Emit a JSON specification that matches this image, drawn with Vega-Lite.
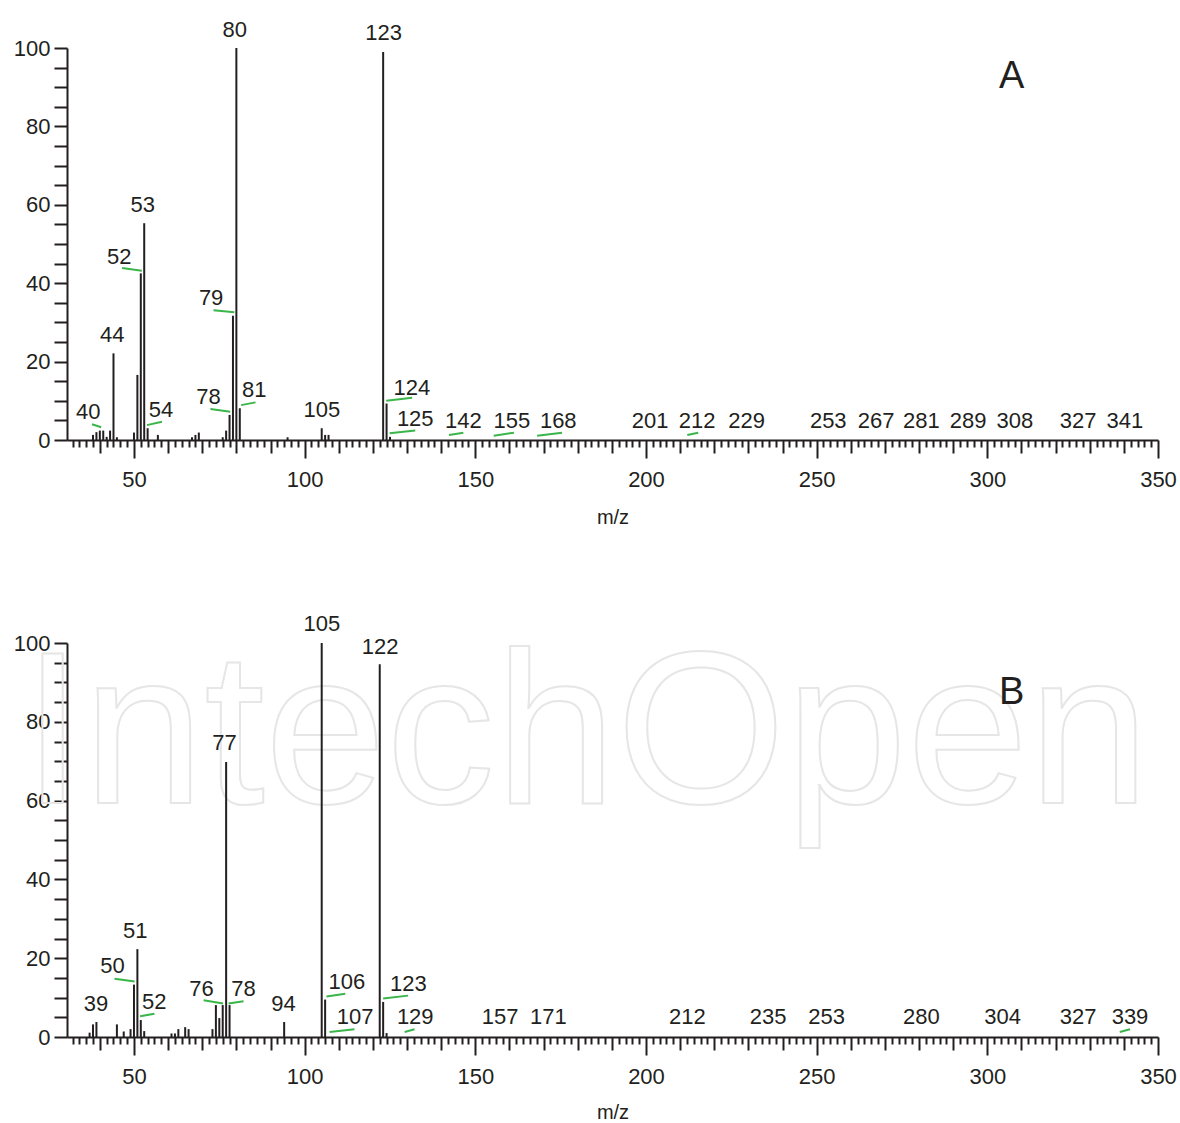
{
  "$schema": "https://vega.github.io/schema/vega-lite/v6.json",
  "padding": {"left": 13, "top": 18, "right": 4, "bottom": 4},
  "bounds": "flush",
  "spacing": 203,
  "config": {
    "font": "Liberation Sans",
    "view": {"stroke": null},
    "axis": {
      "grid": false,
      "domainColor": "#231f20",
      "domainWidth": 2,
      "tickColor": "#231f20",
      "tickWidth": 2,
      "labelColor": "#231f20",
      "labelFont": "Liberation Sans",
      "labelFontSize": 22,
      "titleFont": "Liberation Sans",
      "titleFontSize": 20,
      "titleFontWeight": "normal",
      "titleColor": "#231f20"
    }
  },
  "datasets": {
    "peaks": [
      {"panel": "A", "mz": 38, "intensity": 1.3}, {"panel": "A", "mz": 39, "intensity": 2.0}, {"panel": "A", "mz": 40, "intensity": 2.4},
      {"panel": "A", "mz": 41, "intensity": 2.4}, {"panel": "A", "mz": 42, "intensity": 0.8}, {"panel": "A", "mz": 43, "intensity": 2.4},
      {"panel": "A", "mz": 44, "intensity": 22.1}, {"panel": "A", "mz": 45, "intensity": 0.7}, {"panel": "A", "mz": 50, "intensity": 1.9},
      {"panel": "A", "mz": 51, "intensity": 16.6}, {"panel": "A", "mz": 52, "intensity": 42.5}, {"panel": "A", "mz": 53, "intensity": 55.3},
      {"panel": "A", "mz": 54, "intensity": 3.0}, {"panel": "A", "mz": 57, "intensity": 1.3}, {"panel": "A", "mz": 67, "intensity": 0.7},
      {"panel": "A", "mz": 68, "intensity": 1.3}, {"panel": "A", "mz": 69, "intensity": 1.9}, {"panel": "A", "mz": 76, "intensity": 0.7},
      {"panel": "A", "mz": 77, "intensity": 2.4}, {"panel": "A", "mz": 78, "intensity": 6.4}, {"panel": "A", "mz": 79, "intensity": 31.7},
      {"panel": "A", "mz": 80, "intensity": 100}, {"panel": "A", "mz": 81, "intensity": 8.1}, {"panel": "A", "mz": 95, "intensity": 0.7},
      {"panel": "A", "mz": 105, "intensity": 3.0}, {"panel": "A", "mz": 106, "intensity": 1.3}, {"panel": "A", "mz": 107, "intensity": 1.3},
      {"panel": "A", "mz": 123, "intensity": 99.0}, {"panel": "A", "mz": 124, "intensity": 9.3}, {"panel": "A", "mz": 125, "intensity": 0.8},
      {"panel": "B", "mz": 37, "intensity": 1.1}, {"panel": "B", "mz": 38, "intensity": 3.2}, {"panel": "B", "mz": 39, "intensity": 3.8},
      {"panel": "B", "mz": 45, "intensity": 3.2}, {"panel": "B", "mz": 47, "intensity": 1.4}, {"panel": "B", "mz": 49, "intensity": 2.0},
      {"panel": "B", "mz": 50, "intensity": 13.3}, {"panel": "B", "mz": 51, "intensity": 22.3}, {"panel": "B", "mz": 52, "intensity": 4.3},
      {"panel": "B", "mz": 53, "intensity": 1.5}, {"panel": "B", "mz": 61, "intensity": 0.9}, {"panel": "B", "mz": 62, "intensity": 0.9},
      {"panel": "B", "mz": 63, "intensity": 2.0}, {"panel": "B", "mz": 65, "intensity": 2.5}, {"panel": "B", "mz": 66, "intensity": 2.0},
      {"panel": "B", "mz": 73, "intensity": 2.0}, {"panel": "B", "mz": 74, "intensity": 8.1}, {"panel": "B", "mz": 75, "intensity": 4.8},
      {"panel": "B", "mz": 76, "intensity": 8.1}, {"panel": "B", "mz": 77, "intensity": 69.8}, {"panel": "B", "mz": 78, "intensity": 8.1},
      {"panel": "B", "mz": 94, "intensity": 3.8}, {"panel": "B", "mz": 105, "intensity": 100}, {"panel": "B", "mz": 106, "intensity": 9.5},
      {"panel": "B", "mz": 122, "intensity": 94.6}, {"panel": "B", "mz": 123, "intensity": 8.9}, {"panel": "B", "mz": 124, "intensity": 1.0}
    ],
    "labels": [
      {"panel": "A", "label": "40", "lx": 36.6, "ly": 7.1}, {"panel": "A", "label": "44", "lx": 43.6, "ly": 26.8},
      {"panel": "A", "label": "52", "lx": 45.7, "ly": 46.7}, {"panel": "A", "label": "53", "lx": 52.6, "ly": 59.9},
      {"panel": "A", "label": "54", "lx": 57.9, "ly": 7.6}, {"panel": "A", "label": "78", "lx": 71.8, "ly": 11.0},
      {"panel": "A", "label": "79", "lx": 72.6, "ly": 36.3}, {"panel": "A", "label": "80", "lx": 79.5, "ly": 104.7},
      {"panel": "A", "label": "81", "lx": 85.2, "ly": 12.7}, {"panel": "A", "label": "105", "lx": 105.05, "ly": 7.6},
      {"panel": "A", "label": "123", "lx": 123.15, "ly": 103.7}, {"panel": "A", "label": "124", "lx": 131.4, "ly": 13.2},
      {"panel": "A", "label": "125", "lx": 132.4, "ly": 5.3}, {"panel": "A", "label": "142", "lx": 146.5, "ly": 4.8},
      {"panel": "A", "label": "155", "lx": 160.7, "ly": 4.8}, {"panel": "A", "label": "168", "lx": 174.3, "ly": 4.8},
      {"panel": "A", "label": "201", "lx": 201.2, "ly": 4.8}, {"panel": "A", "label": "212", "lx": 215.0, "ly": 4.8},
      {"panel": "A", "label": "229", "lx": 229.5, "ly": 4.8}, {"panel": "A", "label": "253", "lx": 253.4, "ly": 4.8},
      {"panel": "A", "label": "267", "lx": 267.4, "ly": 4.8}, {"panel": "A", "label": "281", "lx": 280.7, "ly": 4.8},
      {"panel": "A", "label": "289", "lx": 294.4, "ly": 4.8}, {"panel": "A", "label": "308", "lx": 308.1, "ly": 4.8},
      {"panel": "A", "label": "327", "lx": 326.6, "ly": 4.8}, {"panel": "A", "label": "341", "lx": 340.3, "ly": 4.8},
      {"panel": "B", "label": "39", "lx": 38.9, "ly": 8.3}, {"panel": "B", "label": "50", "lx": 43.7, "ly": 17.9},
      {"panel": "B", "label": "51", "lx": 50.4, "ly": 26.8}, {"panel": "B", "label": "52", "lx": 55.95, "ly": 8.9},
      {"panel": "B", "label": "76", "lx": 69.8, "ly": 12.3}, {"panel": "B", "label": "77", "lx": 76.5, "ly": 74.6},
      {"panel": "B", "label": "78", "lx": 82.1, "ly": 12.3}, {"panel": "B", "label": "94", "lx": 93.8, "ly": 8.3},
      {"panel": "B", "label": "105", "lx": 105.05, "ly": 104.7}, {"panel": "B", "label": "106", "lx": 112.4, "ly": 14.0},
      {"panel": "B", "label": "107", "lx": 114.8, "ly": 5.1}, {"panel": "B", "label": "122", "lx": 122.1, "ly": 99.0},
      {"panel": "B", "label": "123", "lx": 130.4, "ly": 13.4}, {"panel": "B", "label": "129", "lx": 132.4, "ly": 5.1},
      {"panel": "B", "label": "157", "lx": 157.3, "ly": 5.1}, {"panel": "B", "label": "171", "lx": 171.4, "ly": 5.1},
      {"panel": "B", "label": "212", "lx": 212.1, "ly": 5.1}, {"panel": "B", "label": "235", "lx": 235.8, "ly": 5.1},
      {"panel": "B", "label": "253", "lx": 252.9, "ly": 5.1}, {"panel": "B", "label": "280", "lx": 280.7, "ly": 5.1},
      {"panel": "B", "label": "304", "lx": 304.5, "ly": 5.1}, {"panel": "B", "label": "327", "lx": 326.6, "ly": 5.1},
      {"panel": "B", "label": "339", "lx": 341.8, "ly": 5.1}
    ],
    "leaders": [
      {"panel": "A", "x1": 37.7, "y1": 4.0, "x2": 40.4, "y2": 3.25}, {"panel": "A", "x1": 46.5, "y1": 43.9, "x2": 52.3, "y2": 43.2},
      {"panel": "A", "x1": 53.8, "y1": 3.8, "x2": 58.2, "y2": 4.66}, {"panel": "A", "x1": 72.4, "y1": 7.9, "x2": 78.2, "y2": 7.2},
      {"panel": "A", "x1": 73.3, "y1": 33.1, "x2": 79.4, "y2": 32.6}, {"panel": "A", "x1": 81.4, "y1": 8.9, "x2": 85.6, "y2": 9.6},
      {"panel": "A", "x1": 123.9, "y1": 10.0, "x2": 131.5, "y2": 10.8}, {"panel": "A", "x1": 124.9, "y1": 1.7, "x2": 132.4, "y2": 2.4},
      {"panel": "A", "x1": 142.3, "y1": 1.27, "x2": 146.5, "y2": 1.86}, {"panel": "A", "x1": 155.4, "y1": 1.1, "x2": 161.3, "y2": 1.86},
      {"panel": "A", "x1": 168.1, "y1": 1.1, "x2": 175.4, "y2": 1.86}, {"panel": "A", "x1": 212.1, "y1": 1.27, "x2": 215.3, "y2": 1.86},
      {"panel": "B", "x1": 44.3, "y1": 14.8, "x2": 50.2, "y2": 14.1}, {"panel": "B", "x1": 51.8, "y1": 5.25, "x2": 56.0, "y2": 5.9},
      {"panel": "B", "x1": 70.4, "y1": 9.3, "x2": 76.1, "y2": 8.5}, {"panel": "B", "x1": 77.7, "y1": 8.5, "x2": 82.1, "y2": 9.1},
      {"panel": "B", "x1": 106.4, "y1": 10.3, "x2": 111.9, "y2": 11.0}, {"panel": "B", "x1": 107.3, "y1": 1.27, "x2": 114.6, "y2": 1.95},
      {"panel": "B", "x1": 123.0, "y1": 9.75, "x2": 130.3, "y2": 10.5}, {"panel": "B", "x1": 129.3, "y1": 1.27, "x2": 132.2, "y2": 1.95},
      {"panel": "B", "x1": 338.8, "y1": 1.27, "x2": 341.8, "y2": 1.95}
    ],
    "panelLetters": [
      {"panel": "A", "letter": "A", "lx": 307.1, "ly": 92.5},
      {"panel": "B", "letter": "B", "lx": 307.1, "ly": 87.3}
    ],
    "watermark": [
      {"panel": "B", "text": "IntechOpen", "wx": 17.3, "wy": 59.3}
    ]
  },
  "vconcat": [
    {
      "width": 1091,
      "height": 392,
      "resolve": {"axis": {"x": "independent", "y": "independent"}},
      "layer": [
        {
          "data": {"name": "peaks"},
          "transform": [{"filter": "datum.panel === 'A'"}],
          "mark": {"type": "rule", "strokeWidth": 2, "color": "#231f20"},
          "encoding": {
            "x": {
              "field": "mz", "type": "quantitative", "title": "m/z",
              "scale": {"domain": [30.38, 350], "nice": false, "zero": false},
              "axis": {"orient": "bottom", "values": [50, 100, 150, 200, 250, 300, 350], "tickSize": 18, "labelPadding": 11, "labelFlush": false, "labelOverlap": false, "titlePadding": 17}
            },
            "y": {
              "field": "intensity", "type": "quantitative", "title": null,
              "scale": {"domain": [0, 100], "nice": false},
              "axis": {"orient": "left", "values": [0, 20, 40, 60, 80, 100], "tickSize": 13, "labelPadding": 4}
            },
            "y2": {"datum": 0}
          }
        },
        {
          "data": {"name": "leaders"},
          "transform": [{"filter": "datum.panel === 'A'"}],
          "mark": {"type": "rule", "strokeWidth": 2, "color": "#3ab54a"},
          "encoding": {
            "x": {"field": "x1", "type": "quantitative", "title": null,
              "axis": {"orient": "bottom", "values": [40, 60, 70, 80, 90, 110, 120, 130, 140, 160, 170, 180, 190, 210, 220, 230, 240, 260, 270, 280, 290, 310, 320, 330, 340], "tickSize": 13, "labels": false, "domain": false}},
            "x2": {"field": "x2"},
            "y": {"field": "y1", "type": "quantitative", "title": null,
              "axis": {"orient": "left", "values": [5, 10, 15, 25, 30, 35, 45, 50, 55, 65, 70, 75, 85, 90, 95], "tickSize": 13, "labels": false, "domain": false}},
            "y2": {"field": "y2"}
          }
        },
        {
          "data": {"name": "labels"},
          "transform": [{"filter": "datum.panel === 'A'"}],
          "mark": {"type": "text", "fontSize": 22, "color": "#231f20", "align": "center", "baseline": "middle"},
          "encoding": {
            "x": {"field": "lx", "type": "quantitative", "title": null,
              "axis": {"orient": "bottom", "values": [32,34,36,38,42,44,46,48,52,54,56,58,62,64,66,68,72,74,76,78,82,84,86,88,92,94,96,98,102,104,106,108,112,114,116,118,122,124,126,128,132,134,136,138,142,144,146,148,152,154,156,158,162,164,166,168,172,174,176,178,182,184,186,188,192,194,196,198,202,204,206,208,212,214,216,218,222,224,226,228,232,234,236,238,242,244,246,248,252,254,256,258,262,264,266,268,272,274,276,278,282,284,286,288,292,294,296,298,302,304,306,308,312,314,316,318,322,324,326,328,332,334,336,338,342,344,346,348], "tickSize": 7, "labels": false, "domain": false}},
            "y": {"field": "ly", "type": "quantitative", "title": null, "axis": null},
            "text": {"field": "label"}
          }
        },
        {
          "data": {"name": "panelLetters"},
          "transform": [{"filter": "datum.panel === 'A'"}],
          "mark": {"type": "text", "fontSize": 38, "color": "#231f20", "align": "center", "baseline": "middle"},
          "encoding": {
            "x": {"field": "lx", "type": "quantitative", "title": null, "axis": null},
            "y": {"field": "ly", "type": "quantitative", "title": null, "axis": null},
            "text": {"field": "letter"}
          }
        }
      ]
    },
    {
      "width": 1091,
      "height": 394,
      "resolve": {"axis": {"x": "independent", "y": "independent"}},
      "layer": [
        {
          "data": {"name": "watermark"},
          "mark": {"type": "text", "font": "Liberation Sans", "fontSize": 218, "align": "left", "baseline": "alphabetic", "fill": "#ffffff", "fillOpacity": 0, "stroke": "#e6e6e6", "strokeWidth": 2},
          "encoding": {
            "x": {"field": "wx", "type": "quantitative", "title": null, "axis": null,
              "scale": {"domain": [30.38, 350], "nice": false, "zero": false}},
            "y": {"field": "wy", "type": "quantitative", "title": null, "axis": null,
              "scale": {"domain": [0, 100], "nice": false}},
            "text": {"field": "text"}
          }
        },
        {
          "data": {"name": "peaks"},
          "transform": [{"filter": "datum.panel === 'B'"}],
          "mark": {"type": "rule", "strokeWidth": 2, "color": "#231f20"},
          "encoding": {
            "x": {
              "field": "mz", "type": "quantitative", "title": "m/z",
              "scale": {"domain": [30.38, 350], "nice": false, "zero": false},
              "axis": {"orient": "bottom", "values": [50, 100, 150, 200, 250, 300, 350], "tickSize": 18, "labelPadding": 11, "labelFlush": false, "labelOverlap": false, "titlePadding": 15}
            },
            "y": {
              "field": "intensity", "type": "quantitative", "title": null,
              "scale": {"domain": [0, 100], "nice": false},
              "axis": {"orient": "left", "values": [0, 20, 40, 60, 80, 100], "tickSize": 13, "labelPadding": 4}
            },
            "y2": {"datum": 0}
          }
        },
        {
          "data": {"name": "leaders"},
          "transform": [{"filter": "datum.panel === 'B'"}],
          "mark": {"type": "rule", "strokeWidth": 2, "color": "#3ab54a"},
          "encoding": {
            "x": {"field": "x1", "type": "quantitative", "title": null,
              "axis": {"orient": "bottom", "values": [40, 60, 70, 80, 90, 110, 120, 130, 140, 160, 170, 180, 190, 210, 220, 230, 240, 260, 270, 280, 290, 310, 320, 330, 340], "tickSize": 13, "labels": false, "domain": false}},
            "x2": {"field": "x2"},
            "y": {"field": "y1", "type": "quantitative", "title": null,
              "axis": {"orient": "left", "values": [5, 10, 15, 25, 30, 35, 45, 50, 55, 65, 70, 75, 85, 90, 95], "tickSize": 13, "labels": false, "domain": false}},
            "y2": {"field": "y2"}
          }
        },
        {
          "data": {"name": "labels"},
          "transform": [{"filter": "datum.panel === 'B'"}],
          "mark": {"type": "text", "fontSize": 22, "color": "#231f20", "align": "center", "baseline": "middle"},
          "encoding": {
            "x": {"field": "lx", "type": "quantitative", "title": null,
              "axis": {"orient": "bottom", "values": [32,34,36,38,42,44,46,48,52,54,56,58,62,64,66,68,72,74,76,78,82,84,86,88,92,94,96,98,102,104,106,108,112,114,116,118,122,124,126,128,132,134,136,138,142,144,146,148,152,154,156,158,162,164,166,168,172,174,176,178,182,184,186,188,192,194,196,198,202,204,206,208,212,214,216,218,222,224,226,228,232,234,236,238,242,244,246,248,252,254,256,258,262,264,266,268,272,274,276,278,282,284,286,288,292,294,296,298,302,304,306,308,312,314,316,318,322,324,326,328,332,334,336,338,342,344,346,348], "tickSize": 7, "labels": false, "domain": false}},
            "y": {"field": "ly", "type": "quantitative", "title": null, "axis": null},
            "text": {"field": "label"}
          }
        },
        {
          "data": {"name": "panelLetters"},
          "transform": [{"filter": "datum.panel === 'B'"}],
          "mark": {"type": "text", "fontSize": 38, "color": "#231f20", "align": "center", "baseline": "middle"},
          "encoding": {
            "x": {"field": "lx", "type": "quantitative", "title": null, "axis": null},
            "y": {"field": "ly", "type": "quantitative", "title": null, "axis": null},
            "text": {"field": "letter"}
          }
        }
      ]
    }
  ]
}
